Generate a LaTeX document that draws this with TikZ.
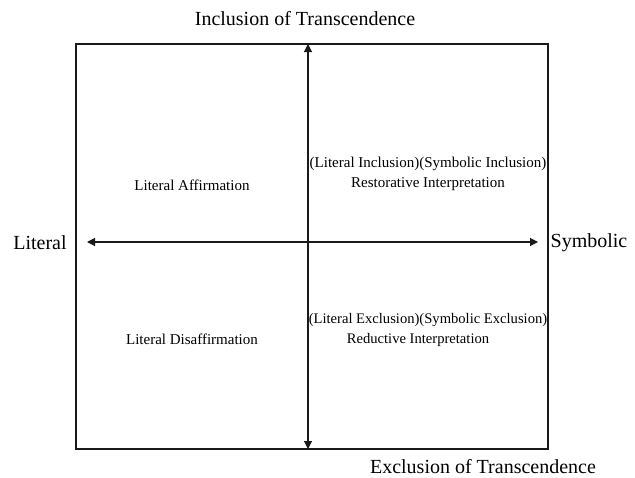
\documentclass[tikz,border=0pt]{standalone}
\usepackage{fontspec}
\setmainfont{Liberation Serif}
\usetikzlibrary{arrows.meta, positioning}
\definecolor{cline}{HTML}{1A1A1A}
\tikzset{
  every picture/.style={line width=1.2pt},
  axislabel/.style={font=\fontsize{20}{22}\selectfont, inner sep=0pt},
  quad/.style={font=\fontsize{15}{20.5}\selectfont, align=center, inner sep=0pt},
  axis/.style={{Triangle[length=8pt, width=8pt]}-{Triangle[length=8pt, width=8pt]}, draw=cline, line width=1.1pt},
}
\begin{document}
\begin{tikzpicture}[x=1pt, y=-1pt]
  \useasboundingbox (0,0) rectangle (635,477);
  % frame
  \draw[cline, line width=1.8pt] (76,44) rectangle (548,449);
  \coordinate (top) at (308,44);
  \coordinate (bot) at (308,449);
  \coordinate (lft) at (87,242);
  \coordinate (rgt) at (538,242);
  \draw[axis] (bot) -- (top);
  \draw[axis] (lft) -- (rgt);
  % axis labels
  \node[axislabel] (incl) at (305,19) {Inclusion of Transcendence};
  \node[axislabel] (excl) at (483,467) {Exclusion of Transcendence};
  \node[axislabel] (lit) at (40,243) {Literal};
  \node[axislabel] (sym) at (589,243) {Symbolic};
  % quadrants
  \node[quad] (q1) at (192,185) {Literal Affirmation};
  \node[quad] (q2) at (428,174) {(Literal Inclusion)(Symbolic Inclusion)\\Restorative Interpretation};
  \node[quad] (q3) at (192,339) {Literal Disaffirmation};
  \node[quad, font=\fontsize{14.6}{20}\selectfont] (q4) at (428,330) {(Literal Exclusion)(Symbolic Exclusion)\\Reductive Interpretation\hspace*{20pt}};
\end{tikzpicture}
\end{document}
